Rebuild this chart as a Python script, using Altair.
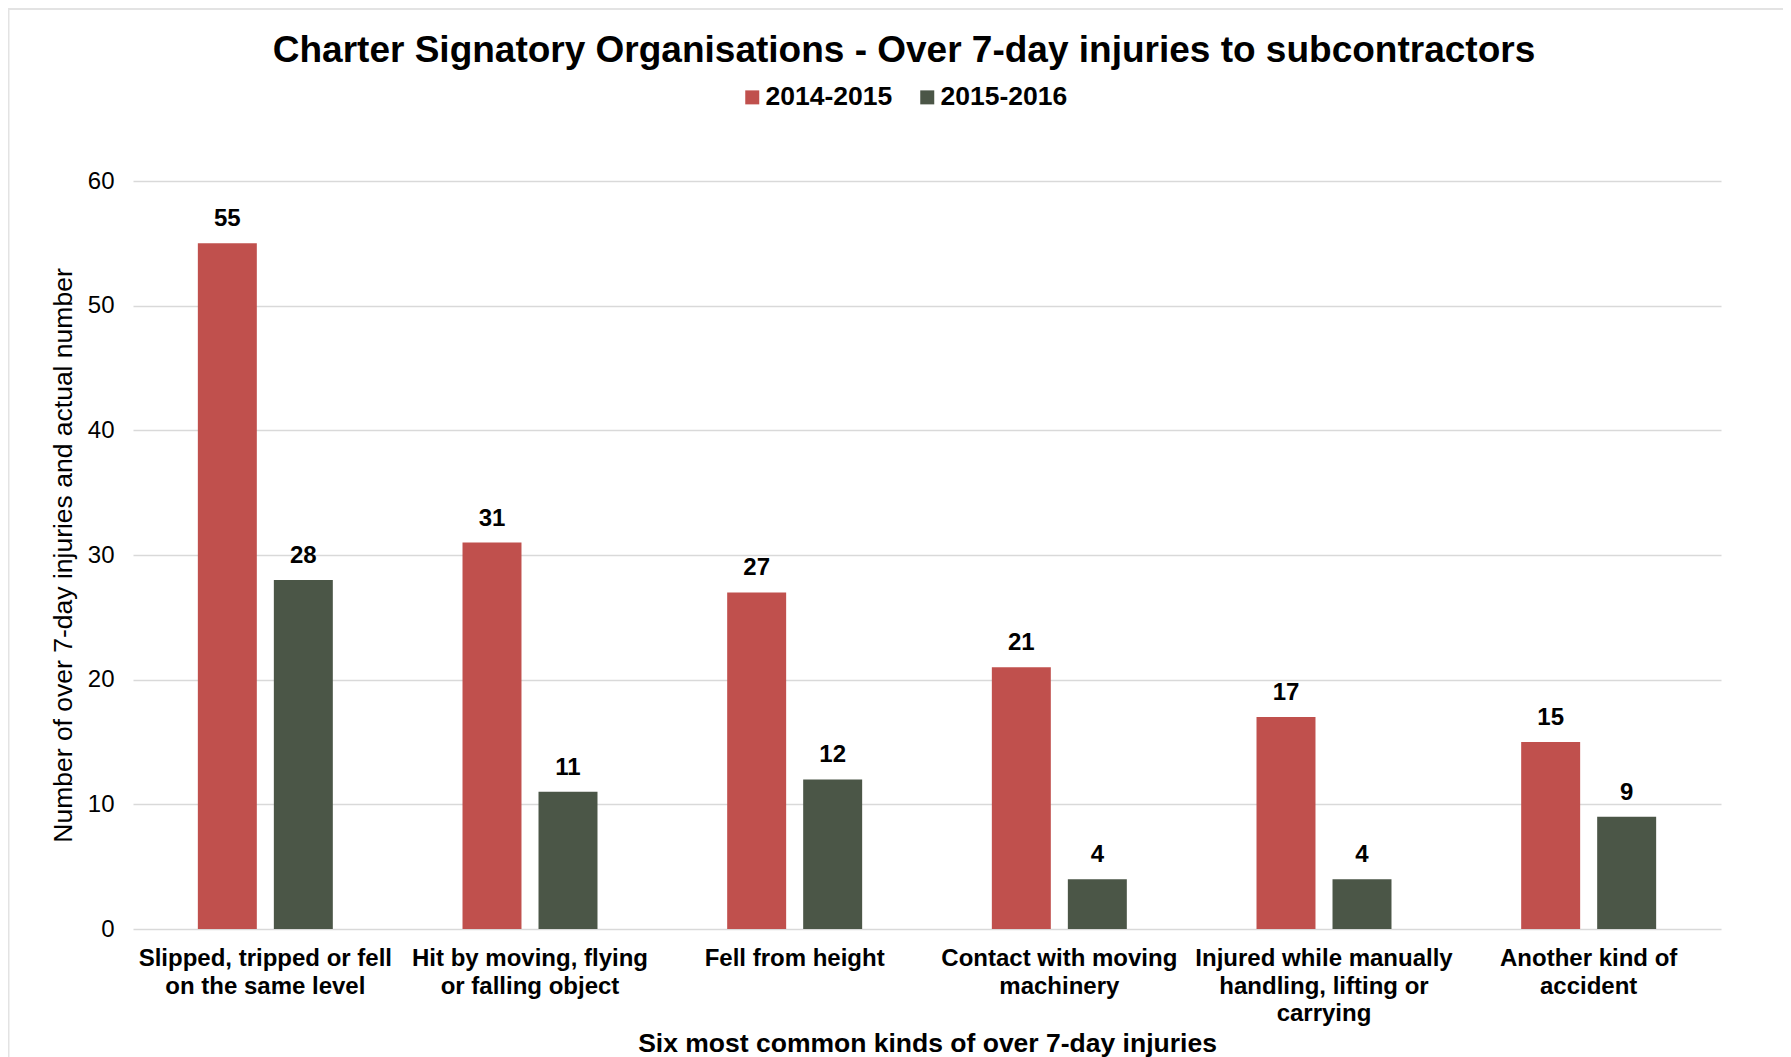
import altair as alt
import pandas as pd

categories = [
    "Slipped, tripped or fell|on the same level",
    "Hit by moving, flying|or falling object",
    "Fell from height",
    "Contact with moving|machinery",
    "Injured while manually|handling, lifting or|carrying",
    "Another kind of|accident",
]
series = ["2014-2015", "2015-2016"]
values_2014 = [55, 31, 27, 21, 17, 15]
values_2015 = [28, 11, 12, 4, 4, 9]
y_ticks = [0, 10, 20, 30, 40, 50, 60]

rows = []
for c, a, b in zip(categories, values_2014, values_2015):
    rows.append({"category": c, "period": series[0], "value": a})
    rows.append({"category": c, "period": series[1], "value": b})
df = pd.DataFrame(rows)

FONT = "Liberation Sans"
W, H = 1588, 748

x_enc = alt.X(
    "category:N",
    sort=categories,
    scale=alt.Scale(paddingInner=0.49, paddingOuter=0.245),
    axis=alt.Axis(
        title="Six most common kinds of over 7-day injuries",
        labelExpr="split(datum.label, '|')",
        labelAngle=0,
        labelFont=FONT,
        labelFontSize=24,
        labelFontWeight="bold",
        labelColor="#000000",
        labelLimit=0,
        labelLineHeight=27.5,
        labelPadding=17.5,
        ticks=False,
        tickSize=0,
        domain=False,
        titleFont=FONT,
        titleFontSize=26.5,
        titleFontWeight="bold",
        titleColor="#000000",
        titleY=114,
        titleBaseline="middle",
    ),
)
xoff_enc = alt.XOffset(
    "period:N", sort=series, scale=alt.Scale(paddingInner=0.224, paddingOuter=0)
)
y_scale = alt.Scale(domain=[0, 60], nice=False)
color_enc = alt.Color(
    "period:N",
    sort=series,
    scale=alt.Scale(domain=series, range=["#C0504D", "#4B5647"]),
    legend=alt.Legend(
        title=None,
        orient="none",
        legendX=606,
        legendY=-97,
        direction="horizontal",
        symbolType="square",
        symbolSize=196,
        symbolStrokeWidth=0,
        labelFont=FONT,
        labelFontSize=26.5,
        labelFontWeight="bold",
        labelColor="#000000",
        labelOffset=0,
        columnPadding=21,
        padding=0,
    ),
)

bars = alt.Chart(df).mark_bar().encode(
    x=x_enc,
    xOffset=xoff_enc,
    y=alt.Y(
        "value:Q",
        scale=y_scale,
        axis=alt.Axis(
            title="Number of over 7-day injuries and actual number",
            values=y_ticks,
            grid=True,
            gridColor="#D9D9D9",
            gridWidth=1.5,
            domain=False,
            ticks=False,
            tickSize=0,
            labelFont=FONT,
            labelFontSize=24,
            labelColor="#000000",
            labelPadding=19,
            titleFont=FONT,
            titleFontSize=26.5,
            titleFontWeight="normal",
            titleColor="#000000",
            titleX=-70,
            titleY=H / 2,
            titleAlign="center",
            titleBaseline="middle",
        ),
    ),
    color=color_enc,
)

labels = alt.Chart(df).mark_text(
    font=FONT, fontSize=24, fontWeight="bold", color="#000000",
    baseline="alphabetic", dy=-17,
).encode(
    x=alt.X("category:N", sort=categories),
    xOffset=alt.XOffset("period:N", sort=series),
    y=alt.Y("value:Q", scale=y_scale),
    text=alt.Text("value:Q"),
)

frame_data = alt.Data(values=[{"k": 1}])
frame_top = alt.Chart(frame_data).mark_rule(color="#E3E3E3", strokeWidth=2).encode(
    x=alt.value(-125), x2=alt.value(1650), y=alt.value(-172)
)
frame_left = alt.Chart(frame_data).mark_rule(color="#E3E3E3", strokeWidth=2).encode(
    x=alt.value(-124.5), y=alt.value(-173), y2=alt.value(876)
)

chart = alt.layer(bars, labels, frame_top, frame_left).properties(
    width=W,
    height=H,
    title=alt.Title(
        "Charter Signatory Organisations - Over 7-day injuries to subcontractors",
        font=FONT,
        fontSize=37,
        fontWeight="bold",
        color="#000000",
        anchor="middle",
        dx=-23,
        offset=-63,
    ),
    autosize=alt.AutoSizeParams(type="none"),
    padding={"left": 125, "top": 173, "right": 62, "bottom": 128},
).configure(background="#FFFFFF").configure_view(stroke="transparent", strokeWidth=0)

chart.save("out.html", embed_options={"renderer": "svg", "actions": False})
